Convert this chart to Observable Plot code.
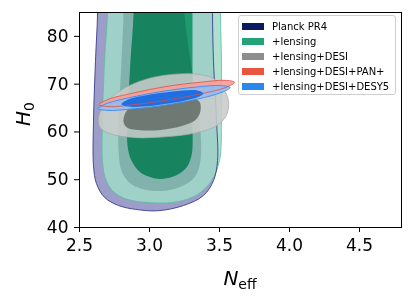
<!DOCTYPE html>
<html><head><meta charset="utf-8">
<script src="https://cdn.jsdelivr.net/npm/d3@7"></script>
<script src="https://cdn.jsdelivr.net/npm/@observablehq/plot@0.6"></script>
<style>
body{margin:0;background:#fff;font-family:"DejaVu Sans",sans-serif}
#wrap{position:relative;width:413px;height:306px;overflow:hidden;background:#fff}
#legend{position:absolute;left:238px;top:15px;width:158px;height:80px;border:1px solid #cfcfcf;border-radius:3px;background:rgba(255,255,255,0.85);box-sizing:border-box;font-size:10px;color:#000}
.row{position:absolute;left:3px;height:14px;display:flex;align-items:center;white-space:nowrap}
.sw{width:22px;height:7px;margin-right:8px}
.lab{position:absolute;font-size:20px;line-height:1;white-space:nowrap;color:#000}
.lab i{font-style:oblique}
.lab span{font-size:14px;position:relative;top:4px}
</style></head>
<body><div id="wrap"></div>
<script>
// ---- data (Neff, H0) ----
const xTicks = [2.5, 3.0, 3.5, 4.0, 4.5];
const yTicks = [40, 50, 60, 70, 80];
const seriesNames = ["Planck PR4", "+lensing", "+lensing+DESI", "+lensing+DESI+PAN+", "+lensing+DESI+DESY5"];

const planck95 = [[2.629,95],[2.629,84.8],[2.614,74.8],[2.600,62.3],[2.600,52.9],[2.621,49.2],[2.679,46.3],[2.779,44.6],[2.900,43.8],[3.057,43.5],[3.243,44.6],[3.386,46.7],[3.457,49.8],[3.486,54.0],[3.479,62.3],[3.457,74.8],[3.450,84.8],[3.450,95]];
const planck68 = [[2.814,95],[2.814,84.8],[2.800,74.8],[2.779,62.3],[2.779,56.0],[2.800,51.9],[2.864,49.2],[2.971,47.9],[3.114,47.7],[3.243,48.8],[3.329,50.8],[3.364,54.0],[3.364,60.2],[3.336,66.5],[3.293,74.8],[3.250,84.8],[3.243,95]];
const lensing95 = [[2.700,95],[2.700,84.8],[2.679,74.8],[2.664,62.3],[2.664,54.0],[2.686,50.2],[2.736,47.7],[2.829,46.0],[3.007,45.2],[3.200,45.4],[3.343,46.9],[3.443,49.8],[3.500,54.0],[3.514,62.3],[3.514,74.8],[3.507,84.8],[3.507,95]];
const lensing68 = [[2.886,95],[2.886,84.8],[2.864,74.8],[2.843,62.3],[2.843,57.1],[2.871,54.0],[2.936,51.5],[3.057,50.2],[3.164,50.6],[3.257,52.3],[3.300,55.0],[3.307,62.3],[3.307,74.8],[3.307,84.8],[3.307,95]];
const desi95 = [[2.636,62.7],[2.664,65.2],[2.736,67.5],[2.850,69.6],[3.007,71.3],[3.186,72.1],[3.329,72.1],[3.450,71.3],[3.521,69.4],[3.564,66.5],[3.550,63.5],[3.479,61.3],[3.329,59.8],[3.114,59.0],[2.900,58.8],[2.721,59.6],[2.650,60.8]];
const desi68 = [[2.814,62.3],[2.836,64.4],[2.900,65.6],[3.007,66.5],[3.150,67.1],[3.293,67.3],[3.357,66.3],[3.364,64.4],[3.329,62.5],[3.236,61.3],[3.079,60.4],[2.921,60.4],[2.836,61.0]];
const pan95 = [[3.608,70.4],[3.546,69.3],[3.372,68.0],[3.132,66.7],[2.890,65.7],[2.711,65.3],[2.640,65.7],[2.704,66.8],[2.878,68.1],[3.118,69.5],[3.360,70.4],[3.539,70.8]];
const desy95 = [[3.576,69.3],[3.517,68.3],[3.347,66.9],[3.111,65.6],[2.874,64.8],[2.698,64.5],[2.631,64.9],[2.690,65.9],[2.860,67.2],[3.096,68.5],[3.333,69.4],[3.509,69.7]];
const desy68 = [[3.385,68.1],[3.347,67.3],[3.242,66.5],[3.098,65.8],[2.952,65.3],[2.844,65.3],[2.800,65.8],[2.839,66.7],[2.944,67.5],[3.088,68.2],[3.234,68.7],[3.342,68.7]];

// ---- styles ----
const legendColors = ["#0b1a5e", "#24a27a", "#8e8e8e", "#e9553f", "#2b87ea"];
const curve = "catmull-rom-closed";
const X = d => d[0], Y = d => d[1];
const shape = (data, o) => Plot.line(data, {x: X, y: Y, curve, clip: true, stroke: "none", ...o});

const plot = Plot.plot({
  width: 413, height: 306,
  marginLeft: 79, marginRight: 12, marginTop: 12, marginBottom: 79,
  x: {domain: [2.5, 4.8], ticks: xTicks, tickFormat: d3.format(".1f"), tickSize: 5, tickPadding: 6, label: null},
  y: {domain: [40, 85], ticks: yTicks, tickSize: 5, tickPadding: 6, label: null},
  style: {fontFamily: "DejaVu Sans", fontSize: "17px", color: "#000", background: "#fff"},
  marks: [
    shape(planck95, {fill: "#9d9dca"}),
    shape(lensing95, {fill: "#a0dbc8", fillOpacity: 0.85, stroke: "#5cbf9c", strokeWidth: 0.8}),
    shape(lensing68, {fill: "#1c9b6f"}),
    shape(planck68, {fill: "#d0dadb"}),
    shape(planck95, {fill: "none", stroke: "#3b3b90", strokeWidth: 0.9}),
    shape(desi95, {fill: "#cacccb", fillOpacity: 0.88, stroke: "#a8a8a8", strokeWidth: 0.7}),
    shape(desi68, {fill: "#6b7570", fillOpacity: 0.95}),
    shape(pan95, {fill: "#f4a19b", fillOpacity: 0.92}),
    shape(desy95, {fill: "#92bcf2", fillOpacity: 0.88, stroke: "#3c8aee", strokeWidth: 0.9}),
    shape(desy68, {fill: "#1f6fe3"}),
    shape(pan95, {fill: "none", stroke: "#e24a3f", strokeWidth: 0.9, strokeOpacity: 0.85}),
    Plot.frame({stroke: "#000", strokeWidth: 1})
  ]
});

// the Planck 1-sigma region darkens what lies beneath it (multiply blending)
const lineGroups = plot.querySelectorAll('g[aria-label="line"]');
if (lineGroups.length > 3) {
  lineGroups[3].style.mixBlendMode = "multiply";
  lineGroups[3].querySelectorAll("path").forEach(p => p.style.mixBlendMode = "multiply");
}

const wrap = document.getElementById("wrap");
wrap.appendChild(plot);

// legend
const leg = document.createElement("div");
leg.id = "legend";
const rowTops = [3, 18.7, 33.7, 48.7, 63.7];
seriesNames.forEach((name, i) => {
  const r = document.createElement("div");
  r.className = "row";
  r.style.top = rowTops[i] + "px";
  r.innerHTML = `<div class="sw" style="background:${legendColors[i]}"></div><span>${name}</span>`;
  leg.appendChild(r);
});
wrap.appendChild(leg);

// axis labels
const yl = document.createElement("div");
yl.className = "lab";
yl.style.left = "23px"; yl.style.top = "114px";
yl.style.transform = "translate(-50%,-50%) rotate(-90deg)";
yl.innerHTML = "<i>H</i><span>0</span>";
wrap.appendChild(yl);

const xl = document.createElement("div");
xl.className = "lab";
xl.style.left = "240px"; xl.style.top = "268px";
xl.style.transform = "translateX(-50%)";
xl.innerHTML = "<i>N</i><span>eff</span>";
wrap.appendChild(xl);
</script>
</body></html>
